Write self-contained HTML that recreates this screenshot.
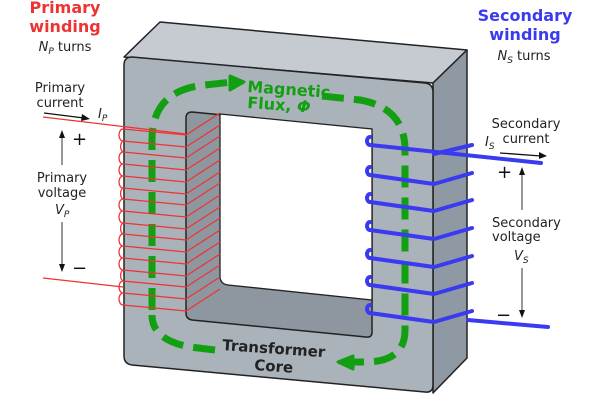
<!DOCTYPE html>
<html><head><style>body{margin:0;background:#fff}svg{display:block}text{font-family:"DejaVu Sans","Liberation Sans",sans-serif}</style></head>
<body>
<svg width="600" height="400" viewBox="0 0 600 400" xmlns="http://www.w3.org/2000/svg">
<!-- core -->
<path d="M124,57 L160,22 L467,50 L433,83 Z" fill="#c5cbd1" stroke="#222" stroke-width="1.5" stroke-linejoin="round"/>
<path d="M433,83 L467,50 L467,358 L433,393 Z" fill="#8f99a3" stroke="#222" stroke-width="1.5" stroke-linejoin="round"/>
<path d="M132,57 L425,83 Q433,84 433,92 L433,385 Q433,393 425,392 L132,365 Q124,364 124,356 L124,65 Q124,57 132,57 Z" fill="#aab2ba" stroke="#222" stroke-width="1.5"/>
<path d="M192,112 L366,129 Q372,130 372,136 L372,332 Q372,338 366,337 L192,320 Q186,319 186,313 L186,118 Q186,112 192,112 Z" fill="#8e979f" stroke="#222" stroke-width="1.5"/>
<path d="M220,114 L372,129 L372,300 L228,285 Q220,284 220,276 Z" fill="#fff" stroke="#222" stroke-width="1.3"/>
<!-- flux -->
<g fill="none" stroke="#12a012" stroke-width="7">
<path d="M152,310 L152,140 Q152,90 205,85 L232,82" stroke-dasharray="22,10"/>
<path d="M322,96 L360,100 Q405,108 405,150 L405,330 Q405,362 365,362 L352,362" stroke-dasharray="22,10"/>
<path d="M215,350 L190,347 Q152,340 152,315" stroke-dasharray="22,10"/>
</g>
<path d="M230,76 L244,82 L230,90 Z" fill="#12a012" stroke="#12a012" stroke-width="3" stroke-linejoin="round"/>
<path d="M353,356 L338,362 L353,369 Z" fill="#12a012" stroke="#12a012" stroke-width="3" stroke-linejoin="round"/>
<text x="247" y="92" font-size="16" font-weight="bold" fill="#12a012" transform="rotate(4 247 92)">Magnetic</text>
<text x="247" y="108" font-size="16" font-weight="bold" fill="#12a012" transform="rotate(4 247 108)">Flux,  <tspan font-style="italic">Φ</tspan></text>
<text x="222" y="350" font-size="15" font-weight="bold" fill="#222" transform="rotate(4 222 350)">Transformer</text>
<text x="254" y="370" font-size="15" font-weight="bold" fill="#222" transform="rotate(4 254 370)">Core</text>
<!-- primary winding -->
<g fill="none" stroke="#ee3333" stroke-width="1.3">
<path d="M43,117 L186,134"/>
<path d="M43,278 L123,287"/>
<path d="M123,129 L186,135 L220,113"/>
<path d="M123,141 L186,147 L220,125"/>
<path d="M123,152 L186,158 L220,136"/>
<path d="M123,164 L186,170 L220,148"/>
<path d="M123,176 L186,182 L220,160"/>
<path d="M123,188 L186,194 L220,172"/>
<path d="M123,199 L186,205 L220,183"/>
<path d="M123,211 L186,217 L220,195"/>
<path d="M123,223 L186,229 L220,207"/>
<path d="M123,234 L186,240 L220,218"/>
<path d="M123,246 L186,252 L220,230"/>
<path d="M123,258 L186,264 L220,242"/>
<path d="M123,270 L186,276 L220,254"/>
<path d="M123,281 L186,287 L220,265"/>
<path d="M123,293 L186,299 L220,277"/>
<path d="M123,305 L186,311 L220,289"/>
<path d="M123,141 a4,6 0 0 1 0,-12 M123,152 a4,6 0 0 1 0,-11 M123,164 a4,6 0 0 1 0,-12 M123,176 a4,6 0 0 1 0,-12 M123,188 a4,6 0 0 1 0,-12 M123,199 a4,6 0 0 1 0,-11 M123,211 a4,6 0 0 1 0,-12 M123,223 a4,6 0 0 1 0,-12 M123,234 a4,6 0 0 1 0,-11 M123,246 a4,6 0 0 1 0,-12 M123,258 a4,6 0 0 1 0,-12 M123,270 a4,6 0 0 1 0,-12 M123,281 a4,6 0 0 1 0,-11 M123,293 a4,6 0 0 1 0,-12 M123,305 a4,6 0 0 1 0,-12"/>
</g>
<!-- secondary winding -->
<g fill="none" stroke="#3a3af0" stroke-width="4" stroke-linecap="round" stroke-linejoin="round">
<path d="M370,145 L541,163"/>
<path d="M370,175 L434,184 L472,173"/>
<path d="M370,202 L434,211 L472,200"/>
<path d="M370,230 L434,239 L472,228"/>
<path d="M370,258 L434,267 L472,256"/>
<path d="M370,285 L434,294 L472,283"/>
<path d="M370,313 L434,322 L472,311"/>
<path d="M434,154 L472,145"/>
<path d="M468,320 L548,327"/>
<path d="M370,175 a3,4 0 0 1 0,-8 M370,202 a3,4 0 0 1 0,-8 M370,230 a3,4 0 0 1 0,-8 M370,258 a3,4 0 0 1 0,-8 M370,285 a3,4 0 0 1 0,-8 M370,313 a3,4 0 0 1 0,-8 M370,145 a3,4 0 0 1 0,-8"/>
</g>
<!-- labels left -->
<text x="65" y="13" font-size="16" font-weight="bold" fill="#ee3333" text-anchor="middle">Primary</text>
<text x="65" y="32" font-size="16" font-weight="bold" fill="#ee3333" text-anchor="middle">winding</text>
<text x="65" y="51" font-size="13" fill="#222" text-anchor="middle"><tspan font-style="italic">N</tspan><tspan font-style="italic" font-size="9" dy="3">P</tspan><tspan dy="-3"> turns</tspan></text>
<text x="60" y="92" font-size="13" fill="#222" text-anchor="middle">Primary</text>
<text x="60" y="107" font-size="13" fill="#222" text-anchor="middle">current</text>
<path d="M44,113 L84,118" stroke="#111" stroke-width="1.3"/><path d="M90,119 L82,114 L81,121 Z" fill="#111"/>
<text x="98" y="118" font-size="13" font-style="italic" fill="#222">I<tspan font-size="9" dy="3">P</tspan></text>
<text x="72" y="145" font-size="18" fill="#111">+</text>
<text x="72" y="274" font-size="18" fill="#111">−</text>
<path d="M62,165 L62,135" stroke="#555" stroke-width="1.2"/><path d="M62,130 L59,138 L65,138 Z" fill="#111"/>
<path d="M62,222 L62,266" stroke="#555" stroke-width="1.2"/><path d="M62,272 L59,264 L65,264 Z" fill="#111"/>
<text x="62" y="182" font-size="13" fill="#222" text-anchor="middle">Primary</text>
<text x="62" y="197" font-size="13" fill="#222" text-anchor="middle">voltage</text>
<text x="55" y="214" font-size="13" font-style="italic" fill="#222">V<tspan font-size="9" dy="3">P</tspan></text>
<!-- labels right -->
<text x="525" y="21" font-size="16" font-weight="bold" fill="#3a3af0" text-anchor="middle">Secondary</text>
<text x="525" y="40" font-size="16" font-weight="bold" fill="#3a3af0" text-anchor="middle">winding</text>
<text x="524" y="60" font-size="13" fill="#222" text-anchor="middle"><tspan font-style="italic">N</tspan><tspan font-style="italic" font-size="9" dy="3">S</tspan><tspan dy="-3"> turns</tspan></text>
<text x="526" y="128" font-size="13" fill="#222" text-anchor="middle">Secondary</text>
<text x="526" y="143" font-size="13" fill="#222" text-anchor="middle">current</text>
<text x="485" y="146" font-size="13" font-style="italic" fill="#222">I<tspan font-size="9" dy="3">S</tspan></text>
<path d="M500,153 L541,156" stroke="#111" stroke-width="1.3"/><path d="M547,156 L539,152 L539,159 Z" fill="#111"/>
<text x="497" y="178" font-size="18" fill="#111">+</text>
<text x="496" y="321" font-size="18" fill="#111">−</text>
<path d="M522,210 L522,173" stroke="#555" stroke-width="1.2"/><path d="M522,167 L519,175 L525,175 Z" fill="#111"/>
<path d="M522,268 L522,312" stroke="#555" stroke-width="1.2"/><path d="M522,318 L519,310 L525,310 Z" fill="#111"/>
<text x="492" y="227" font-size="13" fill="#222">Secondary</text>
<text x="492" y="241" font-size="13" fill="#222">voltage</text>
<text x="514" y="260" font-size="13" font-style="italic" fill="#222">V<tspan font-size="9" dy="3">S</tspan></text>
</svg>
</body></html>
